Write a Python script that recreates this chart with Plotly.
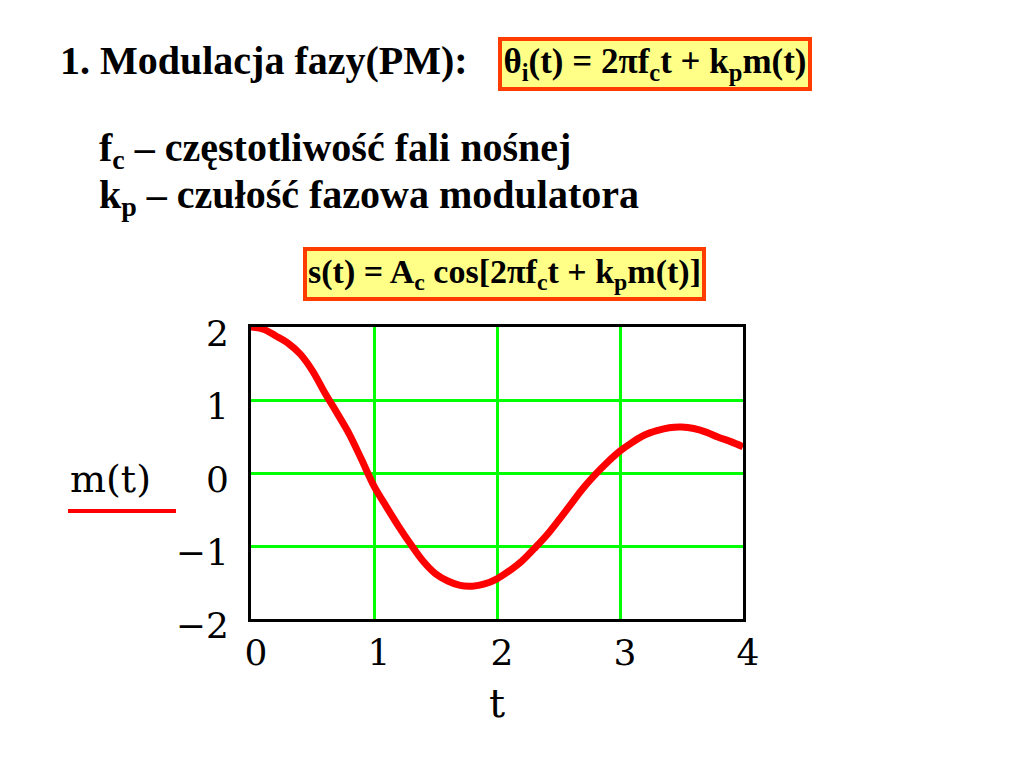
import plotly.graph_objects as go

# ---- data ----
t_vals = [0.0, 0.1, 0.2, 0.3, 0.4, 0.5, 0.6, 0.7, 0.8, 0.9, 1.0, 1.1, 1.2, 1.3, 1.4, 1.5,
          1.6, 1.7, 1.8, 1.9, 2.0, 2.1, 2.2, 2.3, 2.4, 2.5, 2.6, 2.7, 2.8, 2.9, 3.0,
          3.1, 3.2, 3.3, 3.4, 3.5, 3.6, 3.7, 3.8, 3.9, 4.0]
m_vals = [2.00, 1.97, 1.88, 1.78, 1.63, 1.40, 1.10, 0.82, 0.53, 0.18, -0.18, -0.46, -0.73,
          -0.98, -1.21, -1.38, -1.48, -1.54, -1.55, -1.52, -1.45, -1.34, -1.21, -1.04,
          -0.86, -0.65, -0.43, -0.21, -0.02, 0.15, 0.30, 0.42, 0.52, 0.58, 0.62, 0.63,
          0.61, 0.56, 0.49, 0.43, 0.36]
x_ticks = [0, 1, 2, 3, 4]
x_tick_text = ["0", "1", "2", "3", "4"]
y_ticks = [-2, -1, 0, 1, 2]
y_tick_text = ["\u22122", "\u22121", "0", "1", "2"]

title_text = "1. Modulacja fazy(PM):"
formula1 = "\u03b8<sub>i</sub>(t) = 2\u03c0f<sub>c</sub>t + k<sub>p</sub>m(t)"
line1 = "f<sub>c</sub> \u2013 cz\u0119stotliwo\u015b\u0107 fali no\u015bnej"
line2 = "k<sub>p</sub> \u2013 czu\u0142o\u015b\u0107 fazowa modulatora"
formula2 = "s(t) = A<sub>c</sub> cos[2\u03c0f<sub>c</sub>t + k<sub>p</sub>m(t)]"
y_label = "m(t)"
x_label = "t"

# ---- geometry (pixels) ----
W, H = 1024, 768
PX0, PX1, PY0, PY1 = 251, 743, 327, 619  # plot area left,right,top,bottom


def px(x):
    return (x - PX0) / (PX1 - PX0)


def py(y):
    return (PY1 - y) / (PY1 - PY0)


SERIF = "Liberation Serif"
SERIF2 = "DejaVu Serif"

fig = go.Figure()
fig.add_trace(go.Scatter(x=t_vals, y=m_vals, mode="lines",
                         line=dict(color="#FF0000", width=7, shape="spline"),
                         showlegend=False, hoverinfo="skip"))

fig.update_layout(
    width=W, height=H, autosize=False,
    margin=dict(l=PX0, r=W - PX1, t=PY0, b=H - PY1, pad=0),
    paper_bgcolor="white", plot_bgcolor="white",
    showlegend=False,
)
fig.update_xaxes(range=[0, 4], tickvals=x_ticks, ticktext=x_tick_text,
                 showgrid=True, gridcolor="#00FF00", gridwidth=3,
                 zeroline=False, showline=True, linecolor="black", linewidth=3,
                 mirror=True, ticks="", ticklabelstandoff=0, ticklabelshift=5,
                 tickfont=dict(family=SERIF2, size=36, color="black"),
                 title=dict(text=x_label, standoff=17,
                            font=dict(family=SERIF2, size=40, color="black")))
fig.update_yaxes(range=[-2, 2], tickvals=y_ticks, ticktext=y_tick_text,
                 showgrid=True, gridcolor="#00FF00", gridwidth=3,
                 zeroline=False, showline=True, linecolor="black", linewidth=3,
                 mirror=True, ticks="", ticklabelstandoff=12, ticklabelshift=6,
                 tickfont=dict(family=SERIF2, size=36, color="black"))

bold = dict(family=SERIF, size=40, color="black", weight="bold")
fig.add_annotation(text=title_text, xref="paper", yref="paper",
                   x=px(58), y=py(60), xanchor="left", yanchor="middle",
                   showarrow=False, font=bold)
fig.add_annotation(text=line1, xref="paper", yref="paper",
                   x=px(97), y=py(150), xanchor="left", yanchor="middle",
                   showarrow=False, font=bold)
fig.add_annotation(text=line2, xref="paper", yref="paper",
                   x=px(97), y=py(197), xanchor="left", yanchor="middle",
                   showarrow=False, font=bold)

box = dict(bgcolor="#FFFF88", bordercolor="#FF3D00", borderwidth=4, borderpad=0)
fig.add_annotation(text=formula1, xref="paper", yref="paper",
                   x=px(655), y=py(64), xanchor="center", yanchor="middle",
                   width=306, height=46, showarrow=False,
                   font=dict(family=SERIF, size=35, color="black", weight="bold"), **box)
fig.add_annotation(text=formula2, xref="paper", yref="paper",
                   x=px(504.5), y=py(274), xanchor="center", yanchor="middle",
                   width=395, height=46, showarrow=False,
                   font=dict(family=SERIF, size=34, color="black", weight="bold"), **box)

fig.add_annotation(text=y_label, xref="paper", yref="paper",
                   x=px(110), y=py(479), xanchor="center", yanchor="middle",
                   showarrow=False, font=dict(family=SERIF2, size=38, color="black"))
fig.add_shape(type="line", xref="paper", yref="paper",
              x0=px(68), x1=px(176), y0=py(511), y1=py(511),
              line=dict(color="#FF0000", width=4))

fig.write_html("out.html", config={"displayModeBar": False},
               post_script="document.body.style.margin='0';document.body.style.overflow='hidden';")
